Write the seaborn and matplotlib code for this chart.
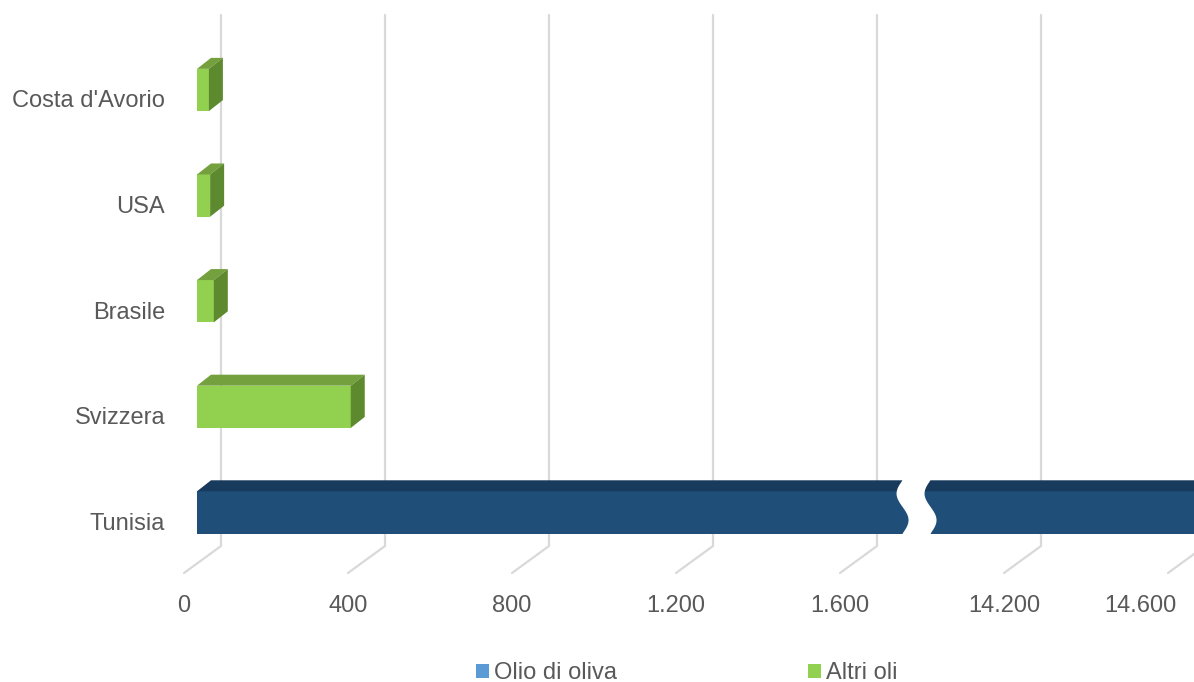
import numpy as np
import pandas as pd
import matplotlib
matplotlib.use("Agg")
import matplotlib.pyplot as plt
import seaborn as sns
from matplotlib.patches import Polygon, Patch
from matplotlib.lines import Line2D
from matplotlib.transforms import ScaledTranslation

# data
countries = ["Costa d'Avorio", "USA", "Brasile", "Svizzera", "Tunisia"]
series = ["Altri oli", "Altri oli", "Altri oli", "Altri oli", "Olio di oliva"]
values = [29, 32, 41, 375, 14700]
tick_values = [0, 400, 800, 1200, 1600, 14200, 14600]
tick_labels = ["0", "400", "800", "1.200", "1.600", "14.200", "14.600"]

front_col = {"Olio di oliva": "#1F4E79", "Altri oli": "#92D050"}
top_col = {"Olio di oliva": "#183A5C", "Altri oli": "#74A03E"}
side_col = {"Olio di oliva": "#16344F", "Altri oli": "#5E8A2F"}
legend_col = {"Olio di oliva": "#5B9BD5", "Altri oli": "#92D050"}
txt = "#595959"
grid = "#D9D9D9"

W, H = 1194, 682
DX, DY = 14, 11  # depth of the 3d bars, px

# broken axis: everything between 1740 and 14000 squeezed into a small gap
bx = [-1e5, 1740, 14000, 1e6]
by = [-1e5, 1740, 1800, 1e6 - 12200]


def fwd(x):
    return np.interp(x, bx, by)


def inv(y):
    return np.interp(y, by, bx)


df = pd.DataFrame({"country": countries, "series": series, "value": values})

sns.set_style("white")
plt.rcParams["font.family"] = ["Liberation Sans", "DejaVu Sans"]

fig = plt.figure(figsize=(W / 100, H / 100), dpi=100)
ax = fig.add_axes([197 / W, 1 - 546 / H, 1 - 197 / W, (546 - 15) / H])

sns.barplot(data=df, x="value", y="country", hue="series", order=countries,
            palette=front_col, saturation=1, dodge=False, width=0.4,
            legend=False, linewidth=0, ax=ax)
ax.set_xscale("function", functions=(fwd, inv))
ax.set_xlim(0, inv(2431.7))
ax.set_ylim(4.318, -0.71)
ax.set_autoscale_on(False)
sns.despine(ax=ax, left=True, bottom=True)
ax.set_xlabel("")
ax.set_ylabel("")
ax.grid(False)

ax.set_xticks(tick_values, tick_labels)
ax.tick_params(axis="x", length=0, pad=35, labelsize=17, labelcolor=txt)
ax.tick_params(axis="y", length=0, pad=23, labelsize=17, labelcolor=txt)
xlbls = ax.get_xticklabels()
for i, lbl in enumerate(xlbls):
    shift = -13 if i < len(xlbls) - 1 else -41  # last label pulled inside like excel does
    lbl.set_transform(lbl.get_transform() + ScaledTranslation(shift / 100, 0, fig.dpi_scale_trans))
for lbl in ax.get_yticklabels():
    lbl.set_transform(lbl.get_transform() + ScaledTranslation(0, -9 / 100, fig.dpi_scale_trans))


def to_fig(pts):
    return np.asarray(pts, dtype=float) / [W, H]


# gridlines on the back wall + slanted floor lines
for t in tick_values:
    xp = ax.transData.transform((t, 0))[0] + 24
    pts = to_fig([(xp, H - 15), (xp, H - 546), (xp - 37, H - 573)])
    ax.add_artist(Line2D(pts[:, 0], pts[:, 1], transform=fig.transFigure,
                         color=grid, lw=1.6, zorder=0.5, clip_on=False))

# 3d faces on the bars
for p, s in zip(ax.patches, series):
    p.set_zorder(2)
    x0, y0 = p.get_x(), p.get_y()
    x1, y1 = x0 + p.get_width(), y0 + p.get_height()
    (xl, yb), (xr, yt) = ax.transData.transform([(x0, y1), (x1, y0)])
    top = [(xl, yt), (xr, yt), (xr + DX, yt + DY), (xl + DX, yt + DY)]
    side = [(xr, yb), (xr, yt), (xr + DX, yt + DY), (xr + DX, yb + DY)]
    for face, c in ((top, top_col[s]), (side, side_col[s])):
        ax.add_artist(Polygon(to_fig(face), closed=True, transform=fig.transFigure,
                              fc=c, lw=0, zorder=2, clip_on=False))

# axis-break mark on the Tunisia bar
p = ax.patches[len(countries) - 1]
xc = ax.transData.transform((4800, 0))[0]
_, yb = ax.transData.transform((0, p.get_y() + p.get_height()))
_, yt = ax.transData.transform((0, p.get_y()))
ys = np.linspace(yt + DY + 2, yb - 2, 40)
tt = (yt + DY - ys) / (yt + DY - yb)
wig = -6 * np.sin(2 * np.pi * np.clip(tt, 0, 1))
left = np.column_stack([xc - 14 + wig, ys])
right = np.column_stack([xc + 14 + wig, ys])[::-1]
ax.add_artist(Polygon(to_fig(np.vstack([left, right])), closed=True,
                      transform=fig.transFigure, fc="white", lw=0,
                      zorder=3, clip_on=False))

handles = [Patch(fc=legend_col[k], lw=0) for k in ["Olio di oliva", "Altri oli"]]
fig.legend(handles, ["Olio di oliva", "Altri oli"], loc="center",
           bbox_to_anchor=(687 / W, 1 - 673 / H), ncol=2, frameon=False,
           fontsize=17, labelcolor=txt, handlelength=0.55, handleheight=0.55,
           handletextpad=0.2, columnspacing=8.1)

fig.savefig("out.png", dpi=100)
